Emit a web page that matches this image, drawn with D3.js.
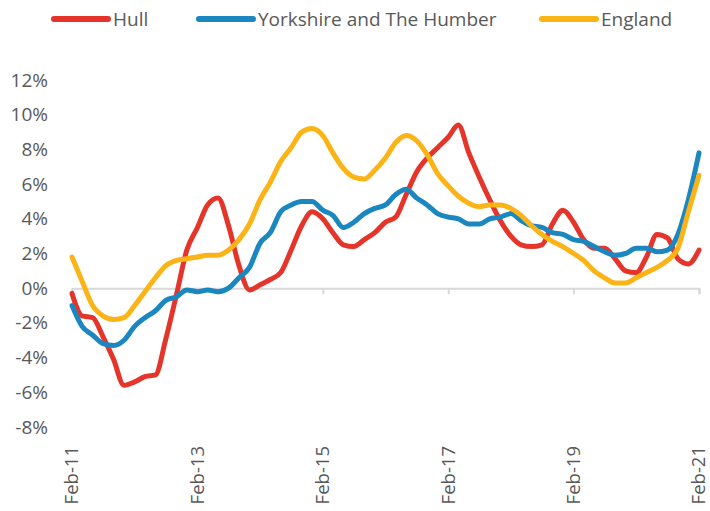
<!DOCTYPE html>
<html>
<head>
<meta charset="utf-8">
<script src="https://cdn.jsdelivr.net/npm/d3@7"></script>
<style>
  body { margin: 0; background: #fff; }
  text { font-family: "Open Sans", sans-serif; fill: #595959; }
</style>
</head>
<body>
<div id="chart"></div>
<script>
// chart size
const width = 710;
const height = 511;

// series names and colours
const seriesNames = ["Hull", "Yorkshire and The Humber", "England"];
const seriesColors = ["#e5352a", "#1b87c1", "#fbb316"];

// one reading every two months, Feb-11 .. Feb-21
const startDate = new Date(2011, 1, 1);
const hull = [-0.3, -1.6, -1.7, -2.8, -4.1, -5.6, -5.4, -5.1, -5.0, -2.9, -0.4, 2.2, 3.5, 4.8, 5.2,
  3.6, 1.3, -0.1, 0.2, 0.5, 0.9, 2.2, 3.6, 4.4, 4.0, 3.2, 2.5, 2.4, 2.8, 3.2, 3.8, 4.1, 5.4, 6.7,
  7.5, 8.1, 8.7, 9.4, 7.8, 6.4, 5.1, 3.9, 3.0, 2.5, 2.4, 2.5, 3.7, 4.5, 3.8, 2.8, 2.3, 2.3, 1.7,
  1.0, 0.9, 1.8, 3.1, 2.9, 1.7, 1.4, 2.2];
const yorkshire = [-1.0, -2.2, -2.7, -3.2, -3.3, -3.0, -2.2, -1.7, -1.3, -0.7, -0.5, -0.1, -0.2, -0.1,
  -0.2, 0.0, 0.6, 1.2, 2.6, 3.2, 4.4, 4.8, 5.0, 5.0, 4.5, 4.2, 3.5, 3.8, 4.3, 4.6, 4.8, 5.4, 5.7,
  5.2, 4.8, 4.3, 4.1, 4.0, 3.7, 3.7, 4.0, 4.1, 4.3, 3.9, 3.6, 3.5, 3.2, 3.1, 2.8, 2.7, 2.4, 2.1,
  1.9, 2.0, 2.3, 2.3, 2.1, 2.2, 3.1, 5.1, 7.8];
const england = [1.8, 0.4, -1.0, -1.6, -1.8, -1.7, -1.0, -0.2, 0.6, 1.3, 1.6, 1.7, 1.8, 1.9, 1.9,
  2.2, 2.8, 3.7, 5.1, 6.1, 7.3, 8.1, 9.0, 9.2, 8.8, 7.8, 6.9, 6.4, 6.3, 6.8, 7.5, 8.4, 8.8, 8.5,
  7.7, 6.6, 5.9, 5.3, 4.9, 4.7, 4.8, 4.8, 4.6, 4.2, 3.6, 3.1, 2.7, 2.4, 2.0, 1.6, 1.0, 0.6, 0.3,
  0.3, 0.6, 0.9, 1.2, 1.6, 2.3, 4.4, 6.5];

// axis ticks
const yTicks = [-8, -6, -4, -2, 0, 2, 4, 6, 8, 10, 12];
const xTickLabels = ["Feb-11", "Feb-13", "Feb-15", "Feb-17", "Feb-19", "Feb-21"];

const series = [hull, yorkshire, england];
const dateAt = i => d3.timeMonth.offset(startDate, i * 2);
const xTickDates = xTickLabels.map((d, i) => d3.timeYear.offset(startDate, i * 2));

const x = d3.scaleTime()
    .domain([startDate, d3.timeYear.offset(startDate, 10)])
    .range([72, 699]);

const y = d3.scaleLinear()
    .domain([-8, 12])
    .range([427, 80]);

const svg = d3.select("#chart")
    .append("svg")
    .attr("width", width)
    .attr("height", height);

// y axis labels only
const yAxis = svg.append("g")
    .attr("transform", "translate(48,0)")
    .call(d3.axisLeft(y).tickValues(yTicks).tickSize(0).tickPadding(0).tickFormat(d => d + "%"));
yAxis.select(".domain").remove();
yAxis.selectAll("text")
    .style("font-size", "19px")
    .style("font-family", "Open Sans, sans-serif")
    .attr("fill", "#595959");

// zero line with year ticks
const xAxis = svg.append("g")
    .attr("transform", `translate(0,${y(0)})`)
    .call(d3.axisBottom(x).tickValues(xTickDates).tickSize(6).tickFormat((d, i) => xTickLabels[i]));
xAxis.select(".domain").attr("stroke", "#d9d9d9").attr("stroke-width", 2);
xAxis.selectAll(".tick line").attr("stroke", "#d9d9d9").attr("stroke-width", 2);
xAxis.selectAll("text")
    .attr("x", 0)
    .attr("y", 0)
    .attr("dy", "0.32em")
    .attr("transform", `translate(0,${446 - y(0)}) rotate(-90)`)
    .style("text-anchor", "end")
    .style("font-size", "18.5px")
    .style("font-family", "Open Sans, sans-serif")
    .attr("fill", "#595959");

// lines
const line = d3.line()
    .x((d, i) => x(dateAt(i)))
    .y(d => y(d))
    .curve(d3.curveMonotoneX);

svg.selectAll(".series")
    .data(series)
    .join("path")
    .attr("class", "series")
    .attr("d", line)
    .attr("fill", "none")
    .attr("stroke", (d, i) => seriesColors[i])
    .attr("stroke-width", 5)
    .attr("stroke-linejoin", "round")
    .attr("stroke-linecap", "round");

// legend
const legendX = [54, 199, 542];
const legend = svg.selectAll(".legend")
    .data(seriesNames)
    .join("g")
    .attr("class", "legend")
    .attr("transform", (d, i) => `translate(${legendX[i]},19)`);

legend.append("line")
    .attr("x1", 0)
    .attr("x2", 54)
    .attr("stroke", (d, i) => seriesColors[i])
    .attr("stroke-width", 6)
    .attr("stroke-linecap", "round");

legend.append("text")
    .attr("x", 59)
    .attr("dy", "0.35em")
    .style("font-size", "19px")
    .text(d => d);
</script>
</body>
</html>
